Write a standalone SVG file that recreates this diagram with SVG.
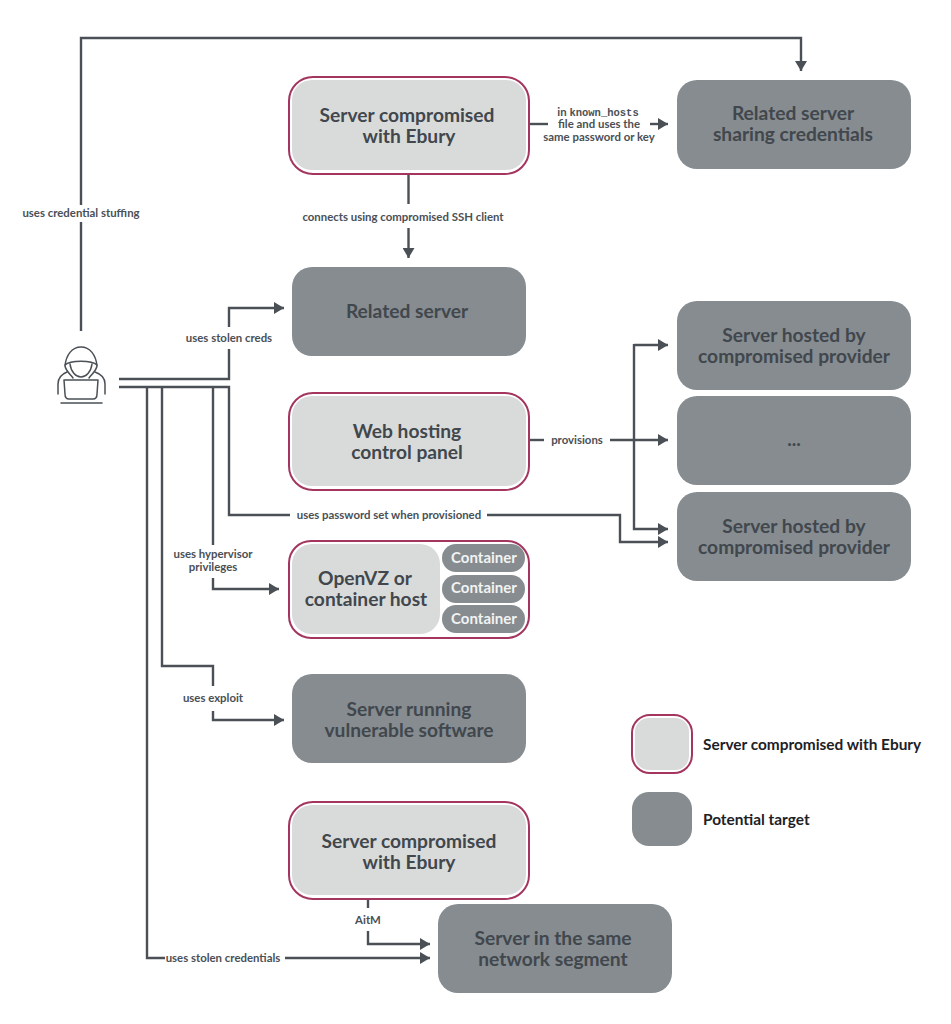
<svg xmlns="http://www.w3.org/2000/svg" width="951" height="1024" viewBox="0 0 951 1024">
<style>
text{font-family:"Lato","Noto Sans",sans-serif;text-anchor:middle}
.t{font-size:19.2px;font-weight:700;fill:#41474d}
.c{font-size:15px;font-weight:700;fill:#f2f3f3}
.l{font-size:11.4px;font-weight:700;fill:#4a5056}
.m{font-family:"Liberation Mono",monospace;font-size:10.5px;font-weight:700;fill:#4a5056}
.g{font-size:15.4px;font-weight:700;fill:#1d2126;text-anchor:start}
.o{fill:#fff;stroke:#a3355f;stroke-width:2}
.i{fill:#d9dbda}
.p{fill:#868c90}
.e{fill:none;stroke:#4a5056;stroke-width:2.4}
.a{fill:none;stroke:#4a5056;stroke-width:2.4;marker-end:url(#arrow)}
.h{fill:none;stroke:#4a5056;stroke-width:1.5;stroke-linecap:round;stroke-linejoin:round}
</style>
<defs>
<marker id="arrow" markerUnits="userSpaceOnUse" markerWidth="11" markerHeight="12" refX="10" refY="6" orient="auto"><path d="M0 0L10 6L0 12z" fill="#4a5056"/></marker>
</defs>
<rect width="951" height="1024" fill="#fff"/>
<g id="connectors">
<path class="e" d="M81 331V222"/>
<path class="a" d="M81 205V38H801V71"/>
<path class="e" d="M119 379H229V349"/>
<path class="a" d="M229 327V308H284"/>
<path class="e" d="M119 387H229V515H290"/>
<path class="a" d="M487 515H620V542H668"/>
<path class="e" d="M213 387V545"/>
<path class="a" d="M213 578V589H279"/>
<path class="e" d="M162 387V666H213V686"/>
<path class="a" d="M213 711V720H284"/>
<path class="e" d="M147 387V958H165"/>
<path class="a" d="M285 958H430"/>
<path class="e" d="M408.500 174V204"/>
<path class="a" d="M408.500 228V258"/>
<path class="e" d="M530 124H548"/>
<path class="a" d="M650 124H668"/>
<path class="e" d="M530 440H544"/>
<path class="a" d="M610 440H668"/>
<path class="a" d="M634 345H668"/>
<path class="a" d="M634 344V529H668"/>
<path class="e" d="M368 900V908"/>
<path class="a" d="M368 931V944H430"/>
<text class="l" x="81" y="217">uses credential stuffing</text>
<text class="l" x="229" y="342">uses stolen creds</text>
<text class="l" x="389" y="519">uses password set when provisioned</text>
<text class="l" x="213" y="558">uses hypervisor</text>
<text class="l" x="213" y="571">privileges</text>
<text class="l" x="213" y="702">uses exploit</text>
<text class="l" x="223" y="962">uses stolen credentials</text>
<text class="l" x="403" y="221">connects using compromised SSH client</text>
<text class="l" x="577" y="444">provisions</text>
<text class="l" x="368" y="924">AitM</text>
<text class="l" x="598" y="116"><tspan>in </tspan><tspan class="m">known_hosts</tspan></text>
<text class="l" x="599" y="128">file and uses the</text>
<text class="l" x="599" y="141">same password or key</text>
</g>
<g id="attacker">
<path class="h" d="M65 366C66 355 72 347 81 347C90 347 96 355 97 366C96 371 92 374 89 378M65 366C66 371 70 374 73 378"/>
<path class="h" d="M65 365C70 360 92 360 97 365"/>
<path class="h" d="M70 364C71 372 76 377 81 377C86 377 91 372 92 364"/>
<path class="h" d="M58 394V384C58 378 62 374 67 372M105 394V384C105 378 101 374 95 372"/>
<path class="h" d="M64 380H98L97 394Q97 399 93 399H69Q65 399 65 394z"/>
<path class="h" d="M61 403H102"/>
</g>
<g id="node-ebury-1"><rect class="o" x="289" y="77" width="240" height="97" rx="24"/><rect class="i" x="292" y="80" width="234" height="90" rx="20"/><text class="t" x="407" y="122">Server compromised</text><text class="t" x="409" y="143">with Ebury</text></g>
<g id="node-sharing"><rect class="p" x="677" y="80" width="234" height="89" rx="20"/><text class="t" x="793" y="120">Related server</text><text class="t" x="793" y="141">sharing credentials</text></g>
<g id="node-related"><rect class="p" x="292" y="267" width="234" height="89" rx="20"/><text class="t" x="407" y="318">Related server</text></g>
<g id="node-hosted-1"><rect class="p" x="677" y="301" width="234" height="89" rx="20"/><text class="t" x="794" y="342">Server hosted by</text><text class="t" x="794" y="363">compromised provider</text></g>
<g id="node-hosted-2"><rect class="p" x="677" y="396" width="234" height="89" rx="20"/><text class="t" x="794" y="446">...</text></g>
<g id="node-hosted-3"><rect class="p" x="677" y="492" width="234" height="89" rx="20"/><text class="t" x="794" y="533">Server hosted by</text><text class="t" x="794" y="554">compromised provider</text></g>
<g id="node-panel"><rect class="o" x="289" y="393" width="240" height="97" rx="24"/><rect class="i" x="292" y="396" width="234" height="90" rx="20"/><text class="t" x="407" y="438">Web hosting</text><text class="t" x="407" y="459">control panel</text></g>
<g id="node-openvz"><rect class="o" x="289" y="541" width="240" height="97" rx="22"/><rect class="i" x="292" y="544" width="148" height="90" rx="20"/><text class="t" x="365" y="585">OpenVZ or</text><text class="t" x="366" y="606">container host</text>
<rect class="p" x="442" y="544" width="83" height="28" rx="14"/><text class="c" x="484" y="563">Container</text>
<rect class="p" x="442" y="575" width="83" height="28" rx="14"/><text class="c" x="484" y="593">Container</text>
<rect class="p" x="442" y="605" width="83" height="28" rx="14"/><text class="c" x="484" y="624">Container</text></g>
<g id="node-vulnerable"><rect class="p" x="292" y="674" width="234" height="89" rx="20"/><text class="t" x="409" y="716">Server running</text><text class="t" x="409" y="737">vulnerable software</text></g>
<g id="node-ebury-2"><rect class="o" x="289" y="802" width="240" height="97" rx="24"/><rect class="i" x="292" y="805" width="234" height="90" rx="20"/><text class="t" x="409" y="848">Server compromised</text><text class="t" x="409" y="869">with Ebury</text></g>
<g id="node-segment"><rect class="p" x="438" y="904" width="234" height="89" rx="20"/><text class="t" x="553" y="945">Server in the same</text><text class="t" x="553" y="966">network segment</text></g>
<g id="legend-compromised"><rect class="o" x="632" y="715" width="60" height="58" rx="18"/><rect class="i" x="635" y="718" width="54" height="52" rx="14"/><text class="g" x="703" y="750">Server compromised with Ebury</text></g>
<g id="legend-target"><rect class="p" x="632" y="792" width="60" height="54" rx="17"/><text class="g" x="703" y="825">Potential target</text></g>
</svg>
